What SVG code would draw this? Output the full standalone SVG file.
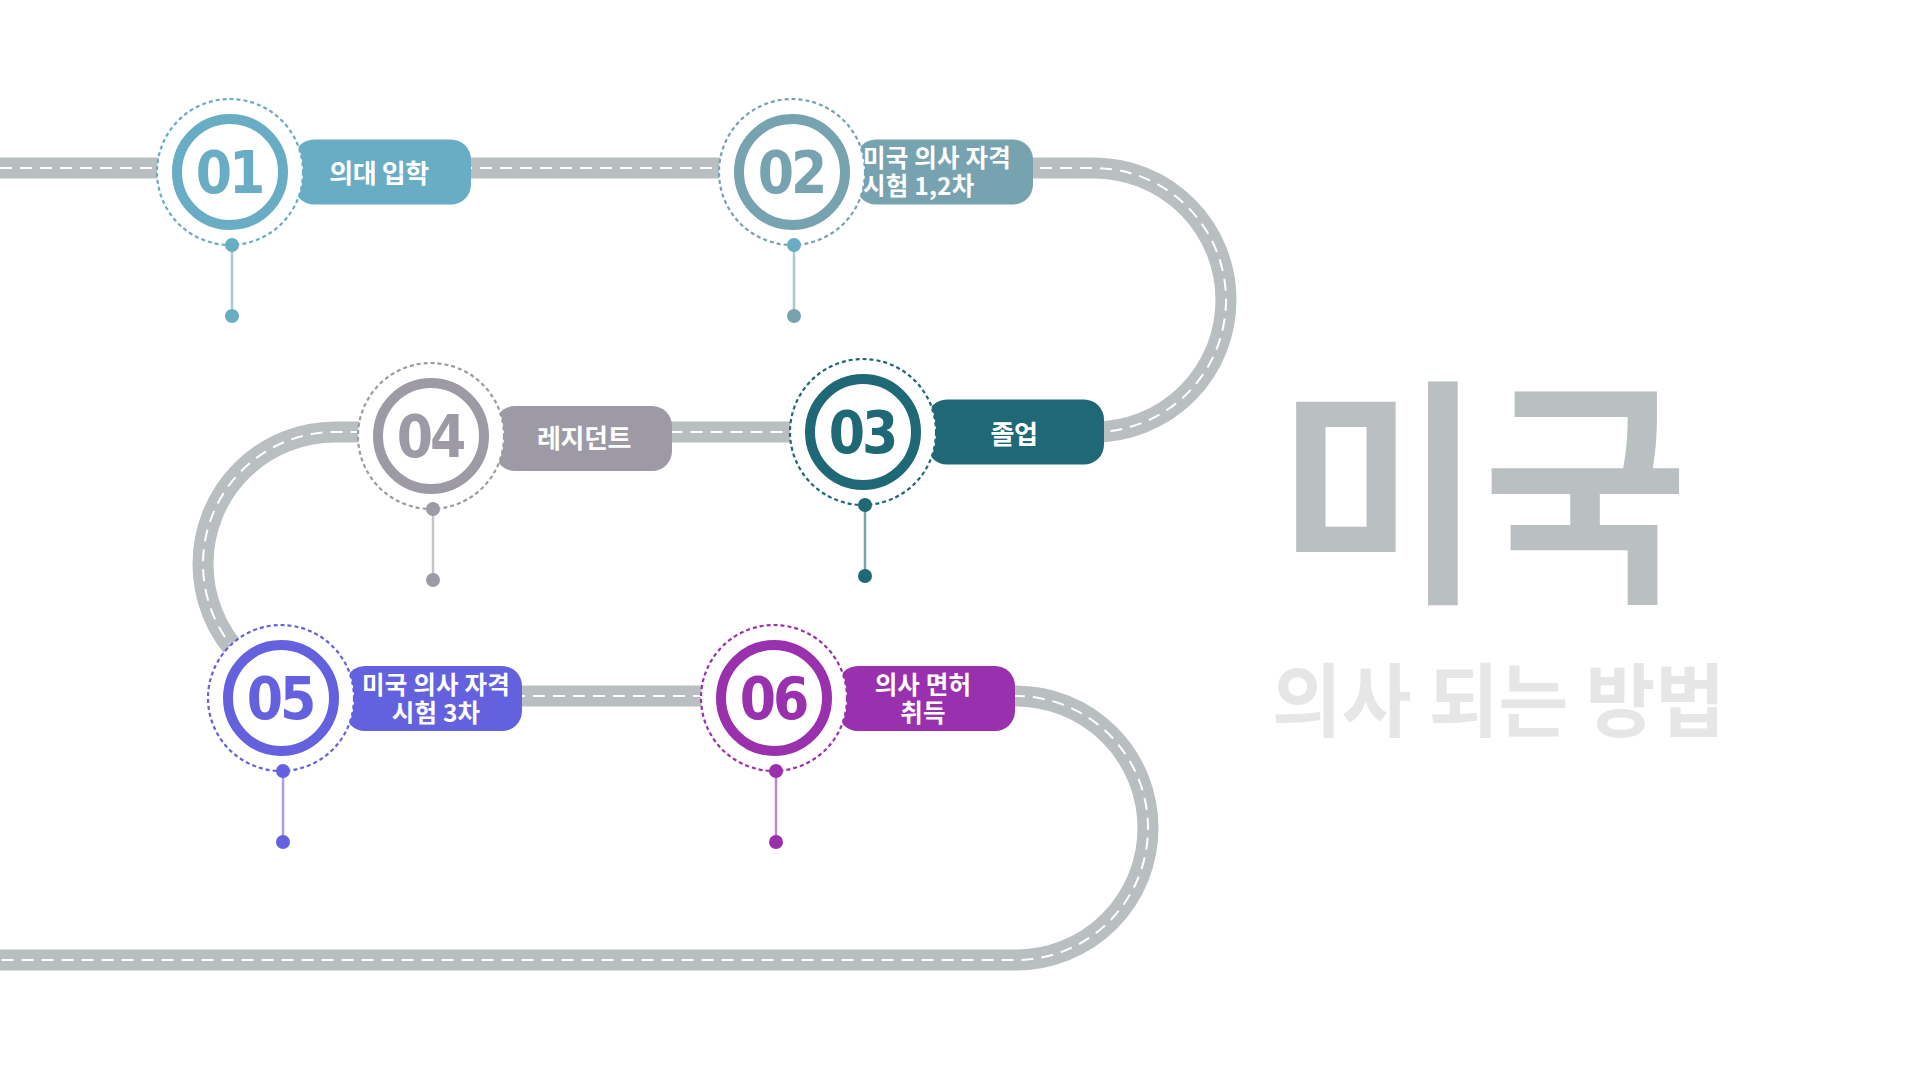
<svg xmlns="http://www.w3.org/2000/svg" width="1920" height="1080" viewBox="0 0 1920 1080">
<style>
.road{fill:none;stroke:#b9bec0;stroke-width:21}
.lane{fill:none;stroke:#ffffff;stroke-width:2;stroke-dasharray:12 8}
.halo{fill:#ffffff;stroke-width:2.2;stroke-dasharray:4 3}
.ring{fill:#ffffff;stroke-width:10}
.num{font-family:"DejaVu Sans Condensed","DejaVu Sans",sans-serif;font-stretch:condensed;font-weight:bold;font-size:58px;text-anchor:middle;letter-spacing:-3px}
.lbl{font-family:"Noto Sans CJK KR","Noto Sans",sans-serif;font-weight:bold;font-size:26px;fill:#ffffff;letter-spacing:-0.4px}
.lbl2{font-family:"Noto Sans CJK KR","Noto Sans",sans-serif;font-weight:bold;font-size:24.5px;fill:#ffffff;letter-spacing:0.2px}
.mid{text-anchor:middle}
.stem{stroke-width:2.5;stroke-opacity:0.6}
.title{font-family:"Noto Sans CJK KR",sans-serif;font-weight:bold}
</style>
<rect width="1920" height="1080" fill="#ffffff"/>

<g id="connectors">
  <path class="road" d="M0,168 H1094 A132,132 0 0 1 1094,432 H335 A132,132 0 0 0 335,696 H1016 A132,132 0 0 1 1016,960 H0"/>
  <path class="lane" d="M0,168 H1094 A132,132 0 0 1 1094,432 H335 A132,132 0 0 0 335,696 H1016 A132,132 0 0 1 1016,960 H0"/>
</g>

<g id="node-01">
  <rect x="294" y="139.5" width="177" height="65" rx="20" fill="#69adc5"/>
  <line class="stem" x1="232" y1="245" x2="232" y2="316" stroke="#69adc5"/>
  <circle class="halo" cx="230" cy="172" r="73" stroke="#69adc5"/>
  <circle class="ring" cx="230" cy="172" r="53" stroke="#69adc5"/>
  <circle cx="232" cy="245" r="7" fill="#69adc5"/>
  <circle cx="232" cy="316" r="7" fill="#69adc5"/>
  <text class="num" x="229" y="193" fill="#69adc5">01</text>
  <text class="lbl mid" x="379" y="183">의대 입학</text>
</g>

<g id="node-02">
  <rect x="856" y="139.5" width="177" height="65" rx="20" fill="#77a2af"/>
  <line class="stem" x1="794" y1="245" x2="794" y2="316" stroke="#77a2af"/>
  <circle class="halo" cx="792" cy="172" r="73" stroke="#77a2af"/>
  <circle class="ring" cx="792" cy="172" r="53" stroke="#77a2af"/>
  <circle cx="794" cy="245" r="7" fill="#69adc5"/>
  <circle cx="794" cy="316" r="7" fill="#77a2af"/>
  <text class="num" x="791" y="193" fill="#77a2af">02</text>
  <text class="lbl2" x="863" y="167">미국 의사 자격</text>
  <text class="lbl2" x="863" y="195">시험 1,2차</text>
</g>

<g id="node-03">
  <rect x="927" y="399.5" width="177" height="65" rx="20" fill="#1f6875"/>
  <line class="stem" x1="865" y1="505" x2="865" y2="576" stroke="#1f6875"/>
  <circle class="halo" cx="863" cy="432" r="73" stroke="#1f6875"/>
  <circle class="ring" cx="863" cy="432" r="53" stroke="#1f6875"/>
  <circle cx="865" cy="505" r="7" fill="#1f6875"/>
  <circle cx="865" cy="576" r="7" fill="#1f6875"/>
  <text class="num" x="862" y="453" fill="#1f6875">03</text>
  <text class="lbl mid" x="1014" y="444">졸업</text>
</g>

<g id="node-04">
  <rect x="495" y="406" width="177" height="65" rx="20" fill="#9e9aa5"/>
  <line class="stem" x1="433" y1="509" x2="433" y2="580" stroke="#9e9aa5"/>
  <circle class="halo" cx="431" cy="436" r="73" stroke="#9e9aa5"/>
  <circle class="ring" cx="431" cy="436" r="53" stroke="#9e9aa5"/>
  <circle cx="433" cy="509" r="7" fill="#9e9aa5"/>
  <circle cx="433" cy="580" r="7" fill="#9e9aa5"/>
  <text class="num" x="430" y="457" fill="#9e9aa5">04</text>
  <text class="lbl mid" x="584" y="448">레지던트</text>
</g>

<g id="node-05">
  <rect x="345" y="666" width="177" height="65" rx="20" fill="#6461de"/>
  <line class="stem" x1="283" y1="771" x2="283" y2="842" stroke="#6461de"/>
  <circle class="halo" cx="281" cy="698" r="73" stroke="#6461de"/>
  <circle class="ring" cx="281" cy="698" r="53" stroke="#6461de"/>
  <circle cx="283" cy="771" r="7" fill="#6461de"/>
  <circle cx="283" cy="842" r="7" fill="#6461de"/>
  <text class="num" x="280" y="719" fill="#6461de">05</text>
  <text class="lbl2 mid" x="436" y="694">미국 의사 자격</text>
  <text class="lbl2 mid" x="436" y="722">시험 3차</text>
</g>

<g id="node-06">
  <rect x="838" y="666" width="177" height="65" rx="20" fill="#9930ad"/>
  <line class="stem" x1="776" y1="771" x2="776" y2="842" stroke="#9930ad"/>
  <circle class="halo" cx="774" cy="698" r="73" stroke="#9930ad"/>
  <circle class="ring" cx="774" cy="698" r="53" stroke="#9930ad"/>
  <circle cx="776" cy="771" r="7" fill="#9930ad"/>
  <circle cx="776" cy="842" r="7" fill="#9930ad"/>
  <text class="num" x="773" y="719" fill="#9930ad">06</text>
  <text class="lbl2 mid" x="923" y="694">의사 면허</text>
  <text class="lbl2 mid" x="923" y="722">취득</text>
</g>

<g id="title">
  <text class="title" x="1277" y="583" font-size="240" fill="#babfc1" textLength="411" lengthAdjust="spacingAndGlyphs">미국</text>
  <text class="title" x="1272" y="730" font-size="80" fill="#e6e6e6" textLength="453" lengthAdjust="spacingAndGlyphs">의사 되는 방법</text>
</g>
</svg>
